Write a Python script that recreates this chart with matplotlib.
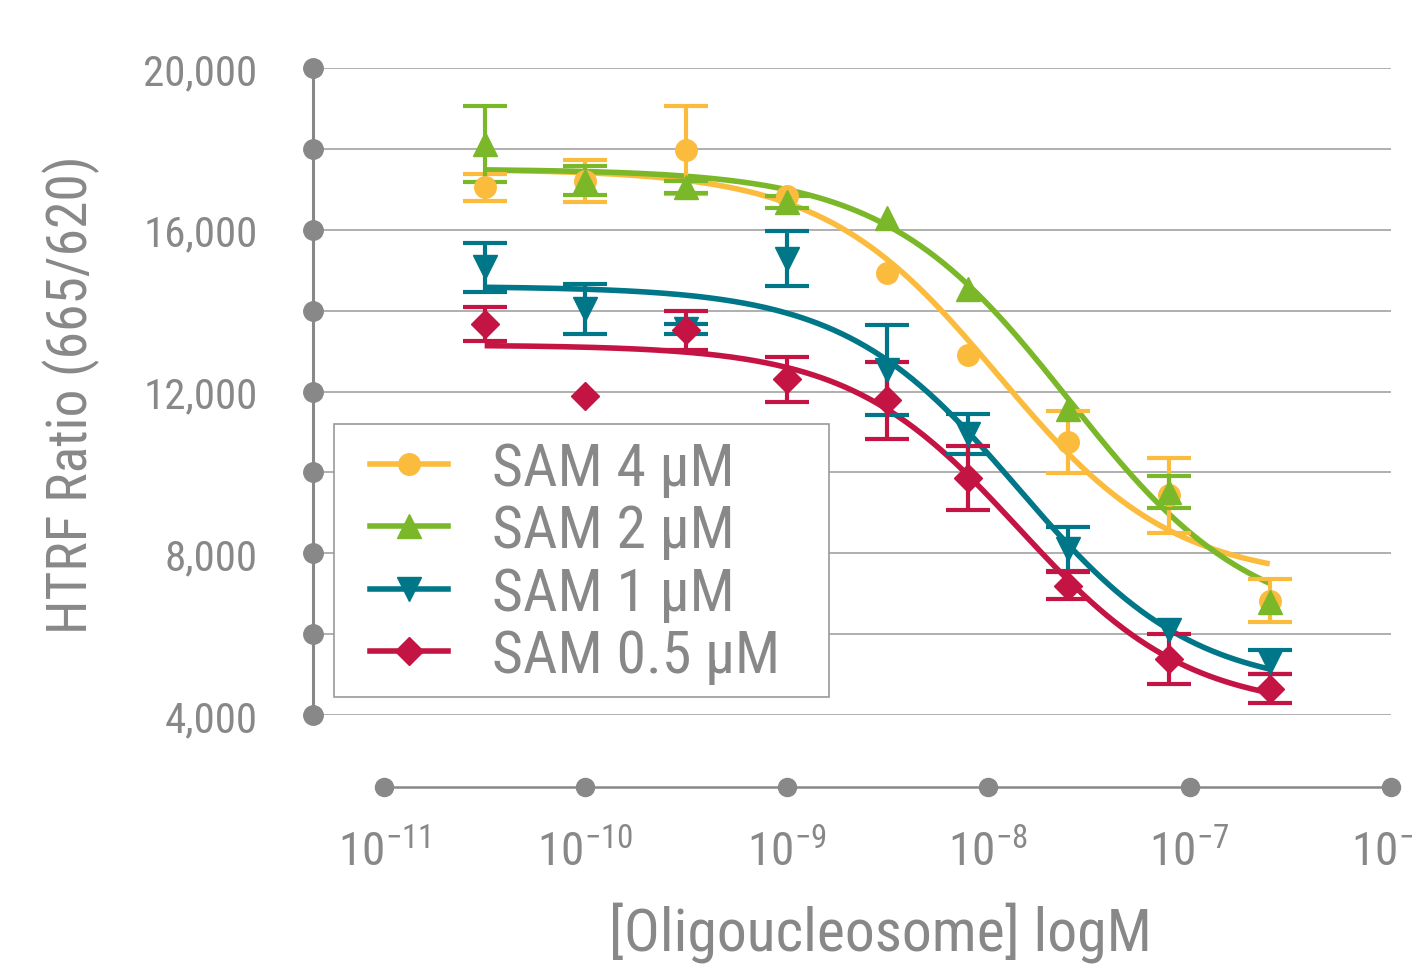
import numpy as np
import matplotlib
matplotlib.use("Agg")
import matplotlib.pyplot as plt
from matplotlib.lines import Line2D
from matplotlib.patches import Rectangle
from matplotlib import font_manager as fm

avail = {f.name for f in fm.fontManager.ttflist}
FAM = [f for f in ['Liberation Sans Narrow', 'Roboto Condensed', 'Roboto', 'DejaVu Sans'] if f in avail] + ['DejaVu Sans']
plt.rcParams['font.family'] = FAM
plt.rcParams['mathtext.fontset'] = 'custom'
plt.rcParams['mathtext.rm'] = FAM[0]

# ---------------- data ----------------
conc = [3.16e-11, 1e-10, 3.16e-10, 1e-9, 3.16e-9, 7.9e-9, 2.5e-8, 7.9e-8, 2.5e-7]
labels = ["SAM 4 µM", "SAM 2 µM", "SAM 1 µM", "SAM 0.5 µM"]
sam4 = [17050, 17210, 17970, 16840, 14920, 12900, 10760, 9430, 6830]
err4 = [330, 515, 1090, 0, 0, 0, 770, 930, 540]
sam2 = [18120, 17215, 17050, 16680, 16300, 14540, 11570, 9510, 6790]
err2 = [950, 350, 150, 150, 0, 0, 0, 400, 0]
sam1 = [15070, 14040, 13550, 15280, 12540, 10950, 8110, 6090, 5310]
err1 = [600, 620, 120, 680, 1110, 500, 540, 0, 300]
sam05 = [13670, 11880, 13510, 12300, 11780, 9860, 7200, 5390, 4650]
err05 = [430, 0, 475, 560, 950, 780, 330, 620, 360]
# 4PL fit parameters: top, bottom, logIC50, hill
fit4 = [17500, 7300, -7.95, 1.0]
fit2 = [17500, 6100, -7.60, 0.95]
fit1 = [14600, 4600, -7.85, 1.0]
fit05 = [13150, 4100, -7.85, 1.03]
yticks = [4000, 8000, 12000, 16000, 20000]
ytick_labels = ["4,000", "8,000", "12,000", "16,000", "20,000"]
decades = [1e-11, 1e-10, 1e-9, 1e-8, 1e-7, 1e-6]
decade_labels = [r"$\mathregular{10^{-11}}$", r"$\mathregular{10^{-10}}$", r"$\mathregular{10^{-9}}$",
                 r"$\mathregular{10^{-8}}$", r"$\mathregular{10^{-7}}$", r"$\mathregular{10^{-6}}$"]

colors = ["#FBBC3E", "#7AB82A", "#007788", "#C41444"]
markers = ["o", "^", "v", "D"]
msizes = [15.5, 17, 17, 14.5]
series = [sam4, sam2, sam1, sam05]
errs = [err4, err2, err1, err05]
fits = [fit4, fit2, fit1, fit05]

GREY = "#888888"

fig = plt.figure(figsize=(14.12, 9.70), dpi=100)
ax = fig.add_axes([313/1412, (970-716)/970, (1391-313)/1412, (716-69)/970])
ax.set_xscale('log')
ax.set_xlim(10**(-11 - 71/201.4), 1e-6)
ax.set_ylim(4000, 20000)

# grid
for g in np.arange(4000, 20001, 2000):
    ax.axhline(g, color="#9a9a9a", lw=1.1, zorder=0)

xc = np.array(conc)
for s, e, f, c, m, ms in zip(series, errs, fits, colors, markers, msizes):
    top, bot, lic, h = f
    xs = np.logspace(np.log10(xc[0]), np.log10(xc[-1]), 300)
    ys = bot + (top - bot) / (1 + 10 ** (h * (np.log10(xs) - lic)))
    ax.plot(xs, ys, color=c, lw=4.0, zorder=3, solid_capstyle='butt')
    s = np.array(s, float); e = np.array(e, float)
    msk = e > 0
    ax.errorbar(xc[msk], s[msk], yerr=e[msk], fmt='none', ecolor=c, elinewidth=3.0,
                capsize=16, capthick=3.0, zorder=4)
    ax.plot(xc, s, linestyle='none', marker=m, color=c, ms=ms, mec=c, zorder=5)

# spines
for sp in ['top', 'right']:
    ax.spines[sp].set_visible(False)
ax.spines['left'].set_color(GREY)
ax.spines['left'].set_linewidth(2.2)
ax.spines['bottom'].set_position(('outward', 72*0.72))
ax.spines['bottom'].set_bounds(1e-11, 1e-6)
ax.spines['bottom'].set_color(GREY)
ax.spines['bottom'].set_linewidth(1.8)

# dots on axes
ax.plot([0]*9, np.arange(4000, 20001, 2000), 'o', color=GREY, ms=14,
        transform=ax.get_yaxis_transform(), clip_on=False, zorder=6)
ax.plot(decades, [-(788-716)/(716-69)]*6, 'o', color=GREY, ms=13,
        transform=ax.get_xaxis_transform(), clip_on=False, zorder=6)

ax.set_yticks(yticks)
ax.set_yticklabels(ytick_labels)
ax.set_xticks(decades)
ax.set_xticklabels(decade_labels)
ax.xaxis.set_minor_locator(matplotlib.ticker.NullLocator())
ax.tick_params(axis='y', length=0, pad=40, labelsize=31, colors=GREY)
ax.tick_params(axis='x', length=0, pad=29, labelsize=34, colors=GREY)

ax.set_ylabel("HTRF Ratio (665/620)", fontsize=40, color=GREY, labelpad=31)
ax.set_xlabel("[Oligoucleosome] logM", fontsize=43, color=GREY, labelpad=20)
ax.xaxis.label.set_x((880-313)/1078)
ax.yaxis.label.set_y((716-395)/647)

# legend frame
ax.add_patch(Rectangle((21/1078, 18/647), 495/1078, 273/647, transform=ax.transAxes,
                       facecolor='white', edgecolor="#9a9a9a", lw=1.2, zorder=9, clip_on=False))
handles = [Line2D([], [], color=c, lw=4.0, marker=m, ms=ms, mec=c)
           for c, m, ms in zip(colors, markers, msizes)]
leg = ax.legend(handles, labels, loc='upper left', bbox_to_anchor=(57/1078, (716-441)/647),
                borderaxespad=0, fontsize=43, frameon=False,
                handlelength=1.3, handletextpad=0.75, labelspacing=0.09,
                borderpad=0, labelcolor=GREY)
leg.set_zorder(10)

fig.savefig("out.png", dpi=100)
